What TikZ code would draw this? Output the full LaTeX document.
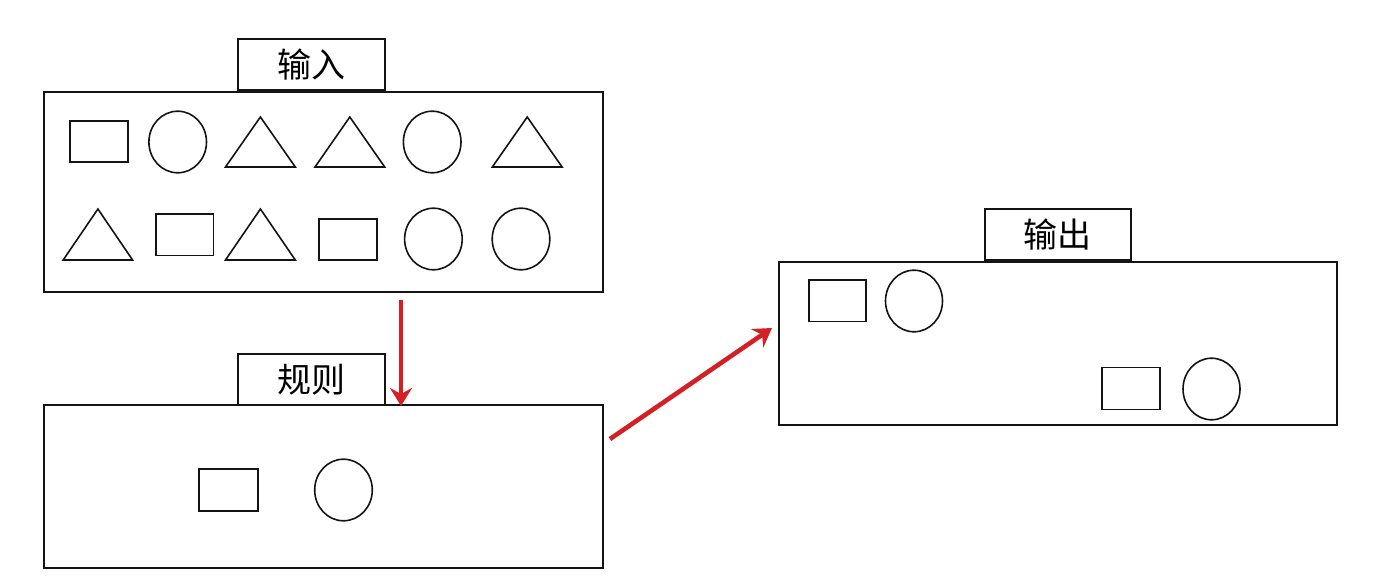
\documentclass[tikz,border=0pt]{standalone}
\usepackage{fontspec}
\newfontfamily\cjk{Noto Sans CJK SC}
\usetikzlibrary{arrows.meta}
\definecolor{arrred}{RGB}{212,32,36}
\definecolor{ink}{RGB}{20,20,20}
\tikzset{
  frame/.style={draw=ink, line width=1.8pt, fill=white},
  shp/.style={draw=ink, line width=1.6pt},
  tag/.style={draw=ink, line width=1.8pt, fill=white, font=\cjk\fontsize{34}{34}\selectfont, inner sep=0pt},
  redarrow/.style={draw=arrred, -{Stealth[length=18pt,width=22pt,inset=6pt]}}
}
\begin{document}
\begin{tikzpicture}[x=1pt,y=-1pt]
\useasboundingbox (0,0) rectangle (1380,588);
\fill[white] (0,0) rectangle (1380,588);

% ---------- boxes ----------
\node[frame, rectangle, minimum width=559pt, minimum height=200pt, anchor=north west] (inbox) at (43,91) {};
\node[tag, minimum width=147pt, minimum height=51pt, anchor=south west] (inlab) at (237,91) {输入};

\node[frame, rectangle, minimum width=559pt, minimum height=163pt, anchor=north west] (rulebox) at (43,404) {};
\node[tag, minimum width=147pt, minimum height=51pt, anchor=south west] (rulelab) at (237,406) {规则};

\node[frame, rectangle, minimum width=558pt, minimum height=163pt, anchor=north west] (outbox) at (778,261) {};
\node[tag, minimum width=146pt, minimum height=51pt, anchor=south west] (outlab) at (984,261) {输出};

% ---------- input shapes, row 1 ----------
\draw[shp] (70,121) rectangle (128,162);
\draw[shp] (177.7,142) ellipse [x radius=28.8, y radius=30.8];
\draw[shp] (225.5,167) -- (260.4,117) -- (295.3,167) -- cycle;
\draw[shp] (315,167) -- (349.8,117) -- (384.7,167) -- cycle;
\draw[shp] (432.2,142) ellipse [x radius=28.8, y radius=30.8];
\draw[shp] (492.3,167) -- (527.2,117) -- (562.1,167) -- cycle;
% ---------- input shapes, row 2 ----------
\draw[shp] (63.2,260) -- (97.9,209) -- (132.6,260) -- cycle;
\draw[shp] (156,214) rectangle (213.5,255.5);
\draw[shp] (225.5,260) -- (260.4,209) -- (295.3,260) -- cycle;
\draw[shp] (319,219) rectangle (377,260);
\draw[shp] (433.4,239) ellipse [x radius=28.8, y radius=30.8];
\draw[shp] (521,239) ellipse [x radius=28.8, y radius=30.8];

% ---------- rule shapes ----------
\draw[shp] (199,469) rectangle (258,511);
\draw[shp] (343.5,490) ellipse [x radius=28.8, y radius=30.8];

% ---------- output shapes ----------
\draw[shp] (809,280) rectangle (866,321.5);
\draw[shp] (914,301) ellipse [x radius=28.5, y radius=30.8];
\draw[shp] (1102,367.5) rectangle (1160,409.5);
\draw[shp] (1211.5,389) ellipse [x radius=28.5, y radius=30.8];

% ---------- arrows ----------
\coordinate (a1s) at (401,300);
\coordinate (a1e) at (401,406);
\coordinate (a2s) at (610,439);
\coordinate (a2e) at (772,328);
\draw[redarrow, line width=3.6pt] (a1s) -- (a1e);
\draw[redarrow, line width=4.6pt] (a2s) -- (a2e);
\end{tikzpicture}
\end{document}
